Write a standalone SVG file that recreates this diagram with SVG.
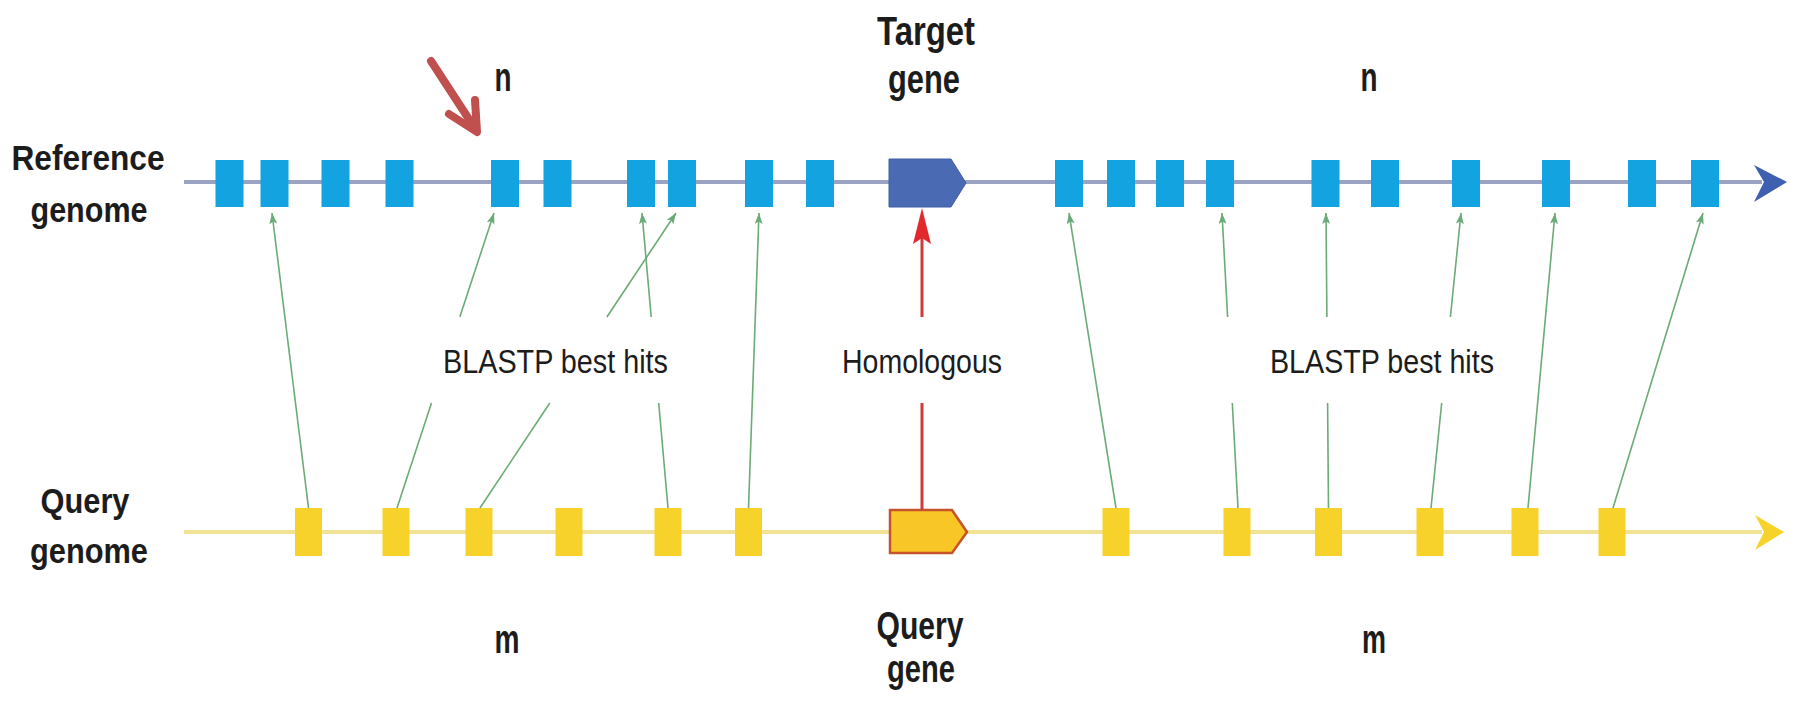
<svg xmlns="http://www.w3.org/2000/svg" width="1794" height="705" viewBox="0 0 1794 705">
  <style>
    text { font-family: "Liberation Sans", Arial, sans-serif; fill: #1c1c1c; }
    .side { font-size: 35px; font-weight: bold; }
    .big { font-size: 41px; font-weight: bold; }
    .gene-q { font-size: 38px; font-weight: bold; }
    .mid { font-size: 33.5px; }
    .exon-ref { fill: #13a3e1; }
    .exon-qry { fill: #f6d22a; }
    .hit { stroke: #6aab77; stroke-width: 1.6; fill: none; }
    .hit-arrow { stroke: #6aab77; stroke-width: 1.6; fill: none; marker-end: url(#greenHead); }
    .homo { stroke: #cf3a3c; stroke-width: 3; fill: none; }
  </style>
  <defs>
    <marker id="greenHead" markerUnits="userSpaceOnUse" markerWidth="12" markerHeight="9" refX="11" refY="4" orient="auto">
      <path d="M0,0 L11,4 L0,8 L2.5,4 Z" fill="#6aab77"/>
    </marker>
  </defs>

  <rect width="1794" height="705" fill="#ffffff"/>

  <!-- genome backbones -->
  <g id="reference-backbone">
    <line x1="184" y1="182" x2="1762" y2="182" stroke="#9ba3c2" stroke-width="4"/>
    <path d="M1754,165 L1787,182 L1754,202 L1764,182 Z" fill="#3f5fb0"/>
  </g>
  <g id="query-backbone">
    <line x1="184" y1="532" x2="1762" y2="532" stroke="#f2e295" stroke-width="4"/>
    <path d="M1755,515 L1784,532 L1755,550 L1764,532 Z" fill="#f6d22a"/>
  </g>

  <!-- side labels -->
  <g id="label-reference-genome">
    <text class="side" x="88" y="170" text-anchor="middle" textLength="153" lengthAdjust="spacingAndGlyphs">Reference</text>
    <text class="side" x="89" y="222" text-anchor="middle" textLength="117" lengthAdjust="spacingAndGlyphs">genome</text>
  </g>
  <g id="label-query-genome">
    <text class="side" x="85" y="513" text-anchor="middle" textLength="89" lengthAdjust="spacingAndGlyphs">Query</text>
    <text class="side" x="89" y="563" text-anchor="middle" textLength="118" lengthAdjust="spacingAndGlyphs">genome</text>
  </g>

  <!-- top / bottom labels -->
  <g id="label-n-left"><text class="big" x="503" y="91" text-anchor="middle" textLength="17" lengthAdjust="spacingAndGlyphs">n</text></g>
  <g id="label-n-right"><text class="big" x="1369" y="91" text-anchor="middle" textLength="17" lengthAdjust="spacingAndGlyphs">n</text></g>
  <g id="label-target-gene">
    <text class="big" x="926" y="45" text-anchor="middle" textLength="98" lengthAdjust="spacingAndGlyphs">Target</text>
    <text class="big" x="924" y="93" text-anchor="middle" textLength="72" lengthAdjust="spacingAndGlyphs">gene</text>
  </g>
  <g id="label-m-left"><text class="big" x="507" y="653" text-anchor="middle" textLength="25" lengthAdjust="spacingAndGlyphs">m</text></g>
  <g id="label-m-right"><text class="big" x="1374" y="653" text-anchor="middle" textLength="24" lengthAdjust="spacingAndGlyphs">m</text></g>
  <g id="label-query-gene">
    <text class="gene-q" x="920" y="639" text-anchor="middle" textLength="87" lengthAdjust="spacingAndGlyphs">Query</text>
    <text class="gene-q" x="921" y="682" text-anchor="middle" textLength="68" lengthAdjust="spacingAndGlyphs">gene</text>
  </g>

  <!-- middle labels -->
  <g id="label-blastp-left"><text class="mid" x="443" y="373" textLength="225" lengthAdjust="spacingAndGlyphs">BLASTP best hits</text></g>
  <g id="label-homologous"><text class="mid" x="922" y="373" text-anchor="middle" textLength="160" lengthAdjust="spacingAndGlyphs">Homologous</text></g>
  <g id="label-blastp-right"><text class="mid" x="1270" y="373" textLength="224" lengthAdjust="spacingAndGlyphs">BLASTP best hits</text></g>

  <!-- reference genome exons -->
  <g id="ref-exon-1"><rect class="exon-ref" x="215.5" y="160" width="28" height="47"/></g>
  <g id="ref-exon-2"><rect class="exon-ref" x="260.5" y="160" width="28" height="47"/></g>
  <g id="ref-exon-3"><rect class="exon-ref" x="321.5" y="160" width="28" height="47"/></g>
  <g id="ref-exon-4"><rect class="exon-ref" x="385.5" y="160" width="28" height="47"/></g>
  <g id="ref-exon-5"><rect class="exon-ref" x="491" y="160" width="28" height="47"/></g>
  <g id="ref-exon-6"><rect class="exon-ref" x="543.5" y="160" width="28" height="47"/></g>
  <g id="ref-exon-7"><rect class="exon-ref" x="627" y="160" width="28" height="47"/></g>
  <g id="ref-exon-8"><rect class="exon-ref" x="668" y="160" width="28" height="47"/></g>
  <g id="ref-exon-9"><rect class="exon-ref" x="745" y="160" width="28" height="47"/></g>
  <g id="ref-exon-10"><rect class="exon-ref" x="806" y="160" width="28" height="47"/></g>
  <g id="target-gene"><path d="M889,159 L951,159 L966,183 L951,207 L889,207 Z" fill="#4a6bb4" stroke="#3f5ea6" stroke-width="1"/></g>
  <g id="ref-exon-11"><rect class="exon-ref" x="1055" y="160" width="28" height="47"/></g>
  <g id="ref-exon-12"><rect class="exon-ref" x="1107" y="160" width="28" height="47"/></g>
  <g id="ref-exon-13"><rect class="exon-ref" x="1156" y="160" width="28" height="47"/></g>
  <g id="ref-exon-14"><rect class="exon-ref" x="1206" y="160" width="28" height="47"/></g>
  <g id="ref-exon-15"><rect class="exon-ref" x="1311.5" y="160" width="28" height="47"/></g>
  <g id="ref-exon-16"><rect class="exon-ref" x="1371" y="160" width="28" height="47"/></g>
  <g id="ref-exon-17"><rect class="exon-ref" x="1452" y="160" width="28" height="47"/></g>
  <g id="ref-exon-18"><rect class="exon-ref" x="1542" y="160" width="28" height="47"/></g>
  <g id="ref-exon-19"><rect class="exon-ref" x="1628" y="160" width="28" height="47"/></g>
  <g id="ref-exon-20"><rect class="exon-ref" x="1691" y="160" width="28" height="47"/></g>

  <!-- query genome exons -->
  <g id="qry-exon-1"><rect class="exon-qry" x="295" y="508" width="27" height="48"/></g>
  <g id="qry-exon-2"><rect class="exon-qry" x="382.5" y="508" width="27" height="48"/></g>
  <g id="qry-exon-3"><rect class="exon-qry" x="465.5" y="508" width="27" height="48"/></g>
  <g id="qry-exon-4"><rect class="exon-qry" x="555.5" y="508" width="27" height="48"/></g>
  <g id="qry-exon-5"><rect class="exon-qry" x="654.5" y="508" width="27" height="48"/></g>
  <g id="qry-exon-6"><rect class="exon-qry" x="735" y="508" width="27" height="48"/></g>
  <g id="query-gene"><path d="M890,510 L952,510 L967,532 L952,553 L890,553 Z" fill="#f8c626" stroke="#c5542b" stroke-width="2.5"/></g>
  <g id="qry-exon-7"><rect class="exon-qry" x="1102.5" y="508" width="27" height="48"/></g>
  <g id="qry-exon-8"><rect class="exon-qry" x="1223.5" y="508" width="27" height="48"/></g>
  <g id="qry-exon-9"><rect class="exon-qry" x="1315" y="508" width="27" height="48"/></g>
  <g id="qry-exon-10"><rect class="exon-qry" x="1416.5" y="508" width="27" height="48"/></g>
  <g id="qry-exon-11"><rect class="exon-qry" x="1511.5" y="508" width="27" height="48"/></g>
  <g id="qry-exon-12"><rect class="exon-qry" x="1598.5" y="508" width="27" height="48"/></g>

  <!-- connectors -->
  <g id="connectors">
    <!-- best-hit links, left block -->
    <line class="hit-arrow" x1="308.5" y1="508" x2="272" y2="213"/>
    <line class="hit" x1="397" y1="508" x2="431.5" y2="403"/>
    <line class="hit-arrow" x1="459.8" y1="317" x2="494" y2="213"/>
    <line class="hit" x1="480" y1="508" x2="549.8" y2="403"/>
    <line class="hit-arrow" x1="606.9" y1="317" x2="676" y2="213"/>
    <line class="hit" x1="668" y1="508" x2="658.7" y2="403"/>
    <line class="hit-arrow" x1="651.2" y1="317" x2="642" y2="213"/>
    <line class="hit-arrow" x1="748.5" y1="508" x2="759" y2="213"/>
    <!-- best-hit links, right block -->
    <line class="hit-arrow" x1="1116" y1="508" x2="1069" y2="213"/>
    <line class="hit" x1="1238" y1="508" x2="1232.3" y2="403"/>
    <line class="hit-arrow" x1="1227.6" y1="317" x2="1222" y2="213"/>
    <line class="hit" x1="1328.5" y1="508" x2="1327.6" y2="403"/>
    <line class="hit-arrow" x1="1326.9" y1="317" x2="1326" y2="213"/>
    <line class="hit" x1="1431" y1="508" x2="1441.7" y2="403"/>
    <line class="hit-arrow" x1="1450.4" y1="317" x2="1461" y2="213"/>
    <line class="hit-arrow" x1="1528" y1="508" x2="1555" y2="213"/>
    <line class="hit-arrow" x1="1613" y1="508" x2="1703" y2="213"/>
    <!-- homology link between query gene and target gene -->
    <line class="homo" x1="922" y1="510" x2="922" y2="403"/>
    <line class="homo" x1="922" y1="317" x2="922" y2="238"/>
    <path d="M922,208 L931,244 L922,238 L913,244 Z" fill="#e0282d"/>
    <!-- pointer to the neighbouring exon -->
    <g fill="none" stroke="#c0504d" stroke-width="8" stroke-linecap="round" stroke-linejoin="round">
      <line x1="431" y1="61" x2="476" y2="130"/>
      <polyline points="449,114 477,132 475,100"/>
    </g>
  </g>
</svg>
